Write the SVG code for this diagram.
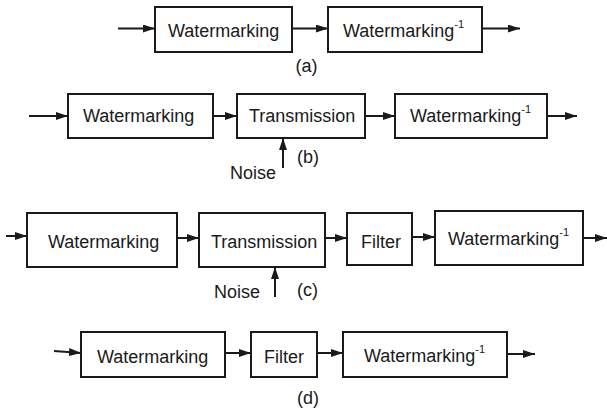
<svg xmlns="http://www.w3.org/2000/svg" width="607" height="412" viewBox="0 0 607 412">
<style>
.box{fill:#fff;stroke:#1a1a1a;stroke-width:2}
.t{font-family:"Liberation Sans",Arial,sans-serif;font-size:18px;fill:#1a1a1a}
.sup{font-size:11px}
.c{stroke:#1a1a1a;stroke-width:2;fill:none;marker-end:url(#ah)}
</style>
<defs>
<marker id="ah" markerUnits="userSpaceOnUse" markerWidth="12" markerHeight="8" refX="12" refY="4" orient="auto">
<path d="M0,0 L12,4 L0,8 z" fill="#1a1a1a"/>
</marker>
</defs>
<rect width="607" height="412" fill="#fff"/>
<g id="connectors">
<line class="c" x1="118" y1="28.5" x2="155" y2="28.5"/>
<line class="c" x1="292" y1="28.5" x2="328" y2="28.5"/>
<line class="c" x1="482" y1="28.5" x2="520" y2="28.5"/>
<line class="c" x1="29" y1="116" x2="68" y2="116"/>
<line class="c" x1="213" y1="116" x2="237" y2="116"/>
<line class="c" x1="365" y1="116" x2="395" y2="116"/>
<line class="c" x1="547" y1="116" x2="577" y2="116"/>
<line class="c" x1="283" y1="168" x2="283" y2="138"/>
<line class="c" x1="6" y1="236" x2="27" y2="236"/>
<line class="c" x1="177" y1="238" x2="199" y2="238"/>
<line class="c" x1="325" y1="238" x2="347" y2="238"/>
<line class="c" x1="412" y1="237" x2="435" y2="237"/>
<line class="c" x1="583" y1="238" x2="607" y2="238"/>
<line class="c" x1="275" y1="297" x2="275" y2="267"/>
<line class="c" x1="54" y1="351" x2="81" y2="353"/>
<line class="c" x1="225" y1="353" x2="251" y2="353"/>
<line class="c" x1="317" y1="353" x2="343" y2="353"/>
<line class="c" x1="507" y1="354" x2="535" y2="354"/>
</g>
<g id="a1"><rect class="box" x="155" y="7" width="137" height="45"/><text class="t" x="168" y="37">Watermarking</text></g>
<g id="a2"><rect class="box" x="328" y="7" width="154" height="45"/><text class="t" x="343" y="37">Watermarking<tspan class="sup" dy="-9">-1</tspan></text></g>
<text class="t" x="306.5" y="72" text-anchor="middle">(a)</text>
<g id="b1"><rect class="box" x="68" y="94" width="145" height="44"/><text class="t" x="83" y="122">Watermarking</text></g>
<g id="b2"><rect class="box" x="237" y="94" width="128" height="44"/><text class="t" x="249" y="122">Transmission</text></g>
<g id="b3"><rect class="box" x="395" y="94" width="152" height="44"/><text class="t" x="410" y="122">Watermarking<tspan class="sup" dy="-9">-1</tspan></text></g>
<text class="t" x="230" y="179">Noise</text>
<text class="t" x="297" y="163">(b)</text>
<g id="c1"><rect class="box" x="27" y="213" width="150" height="54"/><text class="t" x="48" y="248">Watermarking</text></g>
<g id="c2"><rect class="box" x="199" y="213" width="126" height="54"/><text class="t" x="211" y="248">Transmission</text></g>
<g id="c3"><rect class="box" x="347" y="213" width="65" height="52"/><text class="t" x="361" y="248">Filter</text></g>
<g id="c4"><rect class="box" x="435" y="211" width="148" height="54"/><text class="t" x="448" y="245">Watermarking<tspan class="sup" dy="-9">-1</tspan></text></g>
<text class="t" x="214" y="298">Noise</text>
<text class="t" x="297" y="296">(c)</text>
<g id="d1"><rect class="box" x="81" y="332" width="144" height="45"/><text class="t" x="97" y="363">Watermarking</text></g>
<g id="d2"><rect class="box" x="251" y="332" width="66" height="45"/><text class="t" x="264" y="363">Filter</text></g>
<g id="d3"><rect class="box" x="343" y="332" width="164" height="45"/><text class="t" x="364" y="362">Watermarking<tspan class="sup" dy="-9">-1</tspan></text></g>
<text class="t" x="308" y="404" text-anchor="middle">(d)</text>
</svg>
